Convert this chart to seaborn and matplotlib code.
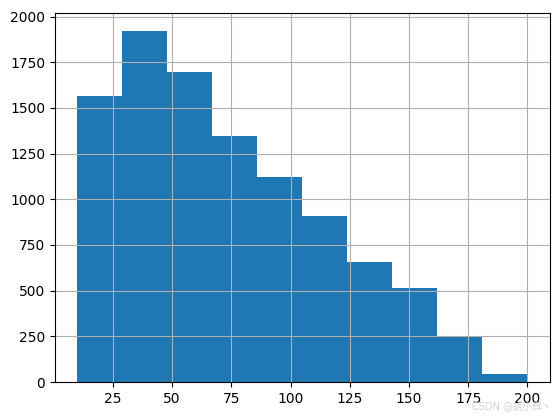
import matplotlib
matplotlib.use("Agg")
import matplotlib.pyplot as plt
import seaborn as sns
import numpy as np
import pandas as pd

# Histogram bin edges and counts
bin_edges = [10, 29, 48, 67, 86, 105, 124, 143, 162, 181, 200]
counts = [1563, 1923, 1699, 1344, 1120, 907, 656, 514, 248, 44]

centers = [(a + b) / 2 for a, b in zip(bin_edges[:-1], bin_edges[1:])]
df = pd.DataFrame({"value": centers, "count": counts})

plt.rcParams['font.family'] = ['DejaVu Sans', 'Noto Sans CJK SC']

fig = plt.figure(figsize=(5.6, 4.16), dpi=100)
ax = fig.add_axes([0.098, 0.0817, 0.884, 0.887])

sns.histplot(data=df, x="value", weights="count", bins=bin_edges,
             color="#1f77b4", alpha=1, edgecolor="none", linewidth=0, ax=ax)
ax.grid(True)
ax.set_xlabel("")
ax.set_ylabel("")
ax.set_xticks([25, 50, 75, 100, 125, 150, 175, 200])
ax.set_yticks(np.arange(0, 2001, 250))

fig.text(0.985, 0.012, "CSDN @胡小辉丶", ha="right", va="bottom",
         fontsize=7, color="#d0d0d0",
         family=['DejaVu Sans', 'Noto Sans CJK SC'])

fig.savefig("out.png", dpi=100)
